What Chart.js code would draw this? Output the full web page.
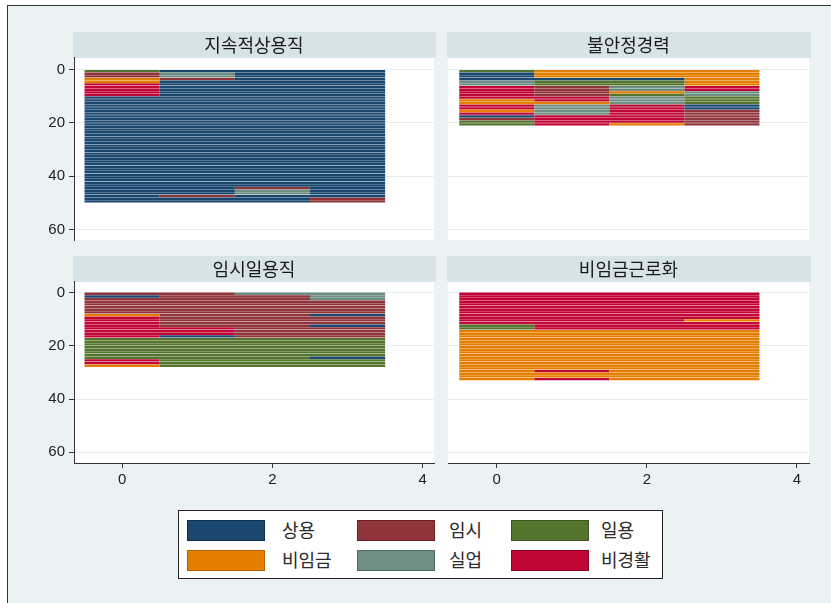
<!DOCTYPE html>
<html>
<head>
<meta charset="utf-8">
<script src="https://cdn.jsdelivr.net/npm/chart.js@4.4.1/dist/chart.umd.min.js"></script>
<style>
  html, body { margin: 0; padding: 0; background: #ffffff; overflow: hidden; }
  #frame { position: absolute; left: 7px; top: 5px; width: 840px; height: 610px;
           background: #eaf2f3; border-left: 1px solid #333; border-top: 1px solid #333; }
  .panel { position: absolute; }
  #legend { position: absolute; left: 178px; top: 510px; width: 483px; height: 67px;
            background: #ffffff; border: 1px solid #222; }
  .item { position: absolute; height: 21px; }
  .sw { position: absolute; left: 0; top: 0; width: 76px; height: 19px; border: 1px solid; }
  .lab { position: absolute; top: -3px; white-space: nowrap; color: #2a2a2a;
         font: 18px 'Noto Sans CJK KR', sans-serif; line-height: 24px; }
</style>
</head>
<body>
<div id="frame"></div>
<div class="panel" style="left:0px;top:28px;width:440px;height:220px"><canvas id="p0" width="440" height="220"></canvas></div>
<div class="panel" style="left:440px;top:28px;width:380px;height:220px"><canvas id="p1" width="380" height="220"></canvas></div>
<div class="panel" style="left:0px;top:252px;width:440px;height:250px"><canvas id="p2" width="440" height="250"></canvas></div>
<div class="panel" style="left:440px;top:252px;width:380px;height:250px"><canvas id="p3" width="380" height="250"></canvas></div>
<div id="legend"></div>

<script>
// Employment states, in legend order; each sequence character is an index into this list.
const stateNames = ['상용', '임시', '일용', '비임금', '실업', '비경활'];
const stateColors = ['#1a476f', '#90353b', '#55752f', '#e37e00', '#6e8e84', '#c10534'];
const stateBorders = ['#0f2f4d', '#6a1f25', '#3a5420', '#b86400', '#4f6b62', '#8e0022'];

const panelTitles = ['지속적상용직', '불안정경력', '임시일용직', '비임금근로화'];
const waves = [0, 1, 2, 3];
const xTicks = [0, 2, 4];
const yTicks = [0, 20, 40, 60];

// One string per person: state at waves 0..3.
const seqStable = [
  '2000', '1400', '1400', '3100', '3000', '5000', '5000', '5000', '5000', '5000',
  '0000', '0000', '0000', '0000', '0000', '0000', '0000', '0000', '0000', '0000',
  '0000', '0000', '0000', '0000', '0000', '0000', '0000', '0000', '0000', '0000',
  '0000', '0000', '0000', '0000', '0000', '0000', '0000', '0000', '0000', '0000',
  '0000', '0000', '0000', '0000', '0010', '0040', '0040', '0100', '0001', '0001'
];
const seqUnstable = [
  '2333', '0333', '0333', '0003', '4223', '4223', '5145', '5145', '5134', '5124',
  '5542', '3542', '3342', '5450', '5450', '3451', '5451', '0551', '1551', '2551',
  '2531'
];
const seqTempDaily = [
  '1144', '0114', '1114', '1111', '1111', '1111', '1111', '1111', '3110', '5111',
  '5111', '5111', '5110', '5511', '5511', '5511', '5011', '2222', '2222', '2222',
  '2222', '2222', '2222', '2222', '2220', '5222', '5222', '3222'
];
const seqNonWage = [
  '5555', '5555', '5555', '5555', '5555', '5555', '5555', '5555', '5555', '5555',
  '5553', '5555', '2555', '2555', '3333', '3333', '3333', '3333', '3333', '3333',
  '3333', '3333', '3333', '3333', '3333', '3333', '3333', '3333', '3333', '3533',
  '3333', '3333', '3533'
];

const FONT_NUM = "'Liberation Sans', 'DejaVu Sans', sans-serif";
const FONT_KR = "'Noto Sans CJK KR', sans-serif";
const GRID = '#e6eef0';
const AXIS = '#333333';

// Split one sequence into runs of identical consecutive states.
function runsOf(row) {
  const runs = [];
  waves.forEach(t => {
    const s = Number(row[t]);
    const last = runs[runs.length - 1];
    if (last && last.state === s && last.end === t - 1) last.end = t;
    else runs.push({ state: s, start: t, end: t });
  });
  return runs;
}

// Each person is a row; each spell in a state is one floating bar, grouped by state.
function buildDatasets(seqs) {
  return stateNames.map((name, s) => ({
    label: name,
    data: seqs.flatMap((row, r) =>
      runsOf(row).filter(run => run.state === s)
        .map(run => ({ x: [run.start - 0.5, run.end + 0.5], y: r + 0.5 }))),
    backgroundColor: stateColors[s],
    borderWidth: 0,
    grouped: false,
    barPercentage: 0.88,
    categoryPercentage: 1
  }));
}

// White plot region plus the shaded title strip above it.
const panelBackground = {
  id: 'panelBackground',
  beforeDraw(chart) {
    const { ctx, chartArea: a } = chart;
    ctx.save();
    ctx.fillStyle = '#ffffff';
    ctx.fillRect(a.left, a.top, a.right - a.left, a.bottom - a.top);
    ctx.fillStyle = '#d6e3e9';
    ctx.fillRect(a.left - 1, a.top - 26, a.right - a.left + 3, 26);
    ctx.restore();
  }
};

function makePanel(id, title, seqs, opt) {
  const yScale = {
    type: 'linear',
    reverse: true,
    offset: false,
    min: opt.yMin,
    max: 64,
    afterBuildTicks: s => { s.ticks = yTicks.map(v => ({ value: v })); },
    afterFit: s => {
      s.width = opt.showY ? 74 : 8;
      s.paddingTop = 0;
      s.paddingBottom = 0;
    },
    grid: {
      offset: false,
      color: GRID,
      lineWidth: 1,
      drawTicks: opt.showY,
      tickLength: 5,
      tickColor: AXIS
    },
    border: { display: opt.showY, color: AXIS, width: 1 },
    ticks: {
      display: opt.showY,
      padding: 4,
      color: '#222',
      font: { family: FONT_NUM, size: 15 }
    }
  };
  const xScale = {
    type: 'linear',
    display: opt.showX,
    offset: false,
    min: opt.xMin,
    max: opt.xMax,
    afterBuildTicks: s => { s.ticks = xTicks.map(v => ({ value: v })); },
    afterFit: s => {
      s.height = opt.showX ? 30 : 0;
      s.paddingLeft = 0;
      s.paddingRight = 0;
    },
    grid: {
      offset: false,
      drawOnChartArea: false,
      drawTicks: true,
      tickLength: 5,
      tickColor: AXIS
    },
    border: { display: true, color: AXIS, width: 1 },
    ticks: {
      padding: 3,
      color: '#222',
      font: { family: FONT_NUM, size: 15 }
    }
  };
  return new Chart(document.getElementById(id), {
    type: 'bar',
    data: { datasets: buildDatasets(seqs) },
    options: {
      indexAxis: 'y',
      responsive: false,
      animation: false,
      layout: { padding: { left: 0, right: opt.padRight, top: 4, bottom: opt.padBottom } },
      scales: { x: xScale, y: yScale },
      plugins: {
        legend: { display: false },
        tooltip: { enabled: false },
        title: {
          display: true,
          text: title,
          fullSize: false,
          color: '#1a1a1a',
          padding: { top: 3, bottom: 3 },
          font: { family: FONT_KR, size: 18, weight: 'normal', lineHeight: 1.1 }
        }
      }
    },
    plugins: [panelBackground]
  });
}

makePanel('p0', panelTitles[0], seqStable,
  { showY: true, showX: false, yMin: -4.5, xMin: -0.64, xMax: 4.15, padRight: 6, padBottom: 8 });
makePanel('p1', panelTitles[1], seqUnstable,
  { showY: false, showX: false, yMin: -4.5, xMin: -0.65, xMax: 4.16, padRight: 11, padBottom: 8 });
makePanel('p2', panelTitles[2], seqTempDaily,
  { showY: true, showX: true, yMin: -4, xMin: -0.64, xMax: 4.15, padRight: 6, padBottom: 9 });
makePanel('p3', panelTitles[3], seqNonWage,
  { showY: false, showX: true, yMin: -4, xMin: -0.65, xMax: 4.16, padRight: 11, padBottom: 9 });

// Legend: two rows of three keys.
const legendSlots = [
  [8, 9, 95], [178, 9, 92], [332, 9, 90],
  [8, 39, 95], [178, 39, 92], [332, 39, 90]
];
const legend = document.getElementById('legend');
stateNames.forEach((name, i) => {
  const [lx, ly, gap] = legendSlots[i];
  const item = document.createElement('div');
  item.className = 'item';
  item.style.left = lx + 'px';
  item.style.top = ly + 'px';
  const sw = document.createElement('div');
  sw.className = 'sw';
  sw.style.background = stateColors[i];
  sw.style.borderColor = stateBorders[i];
  const lab = document.createElement('div');
  lab.className = 'lab';
  lab.style.left = gap + 'px';
  lab.textContent = name;
  item.appendChild(sw);
  item.appendChild(lab);
  legend.appendChild(item);
});
</script>
</body>
</html>
